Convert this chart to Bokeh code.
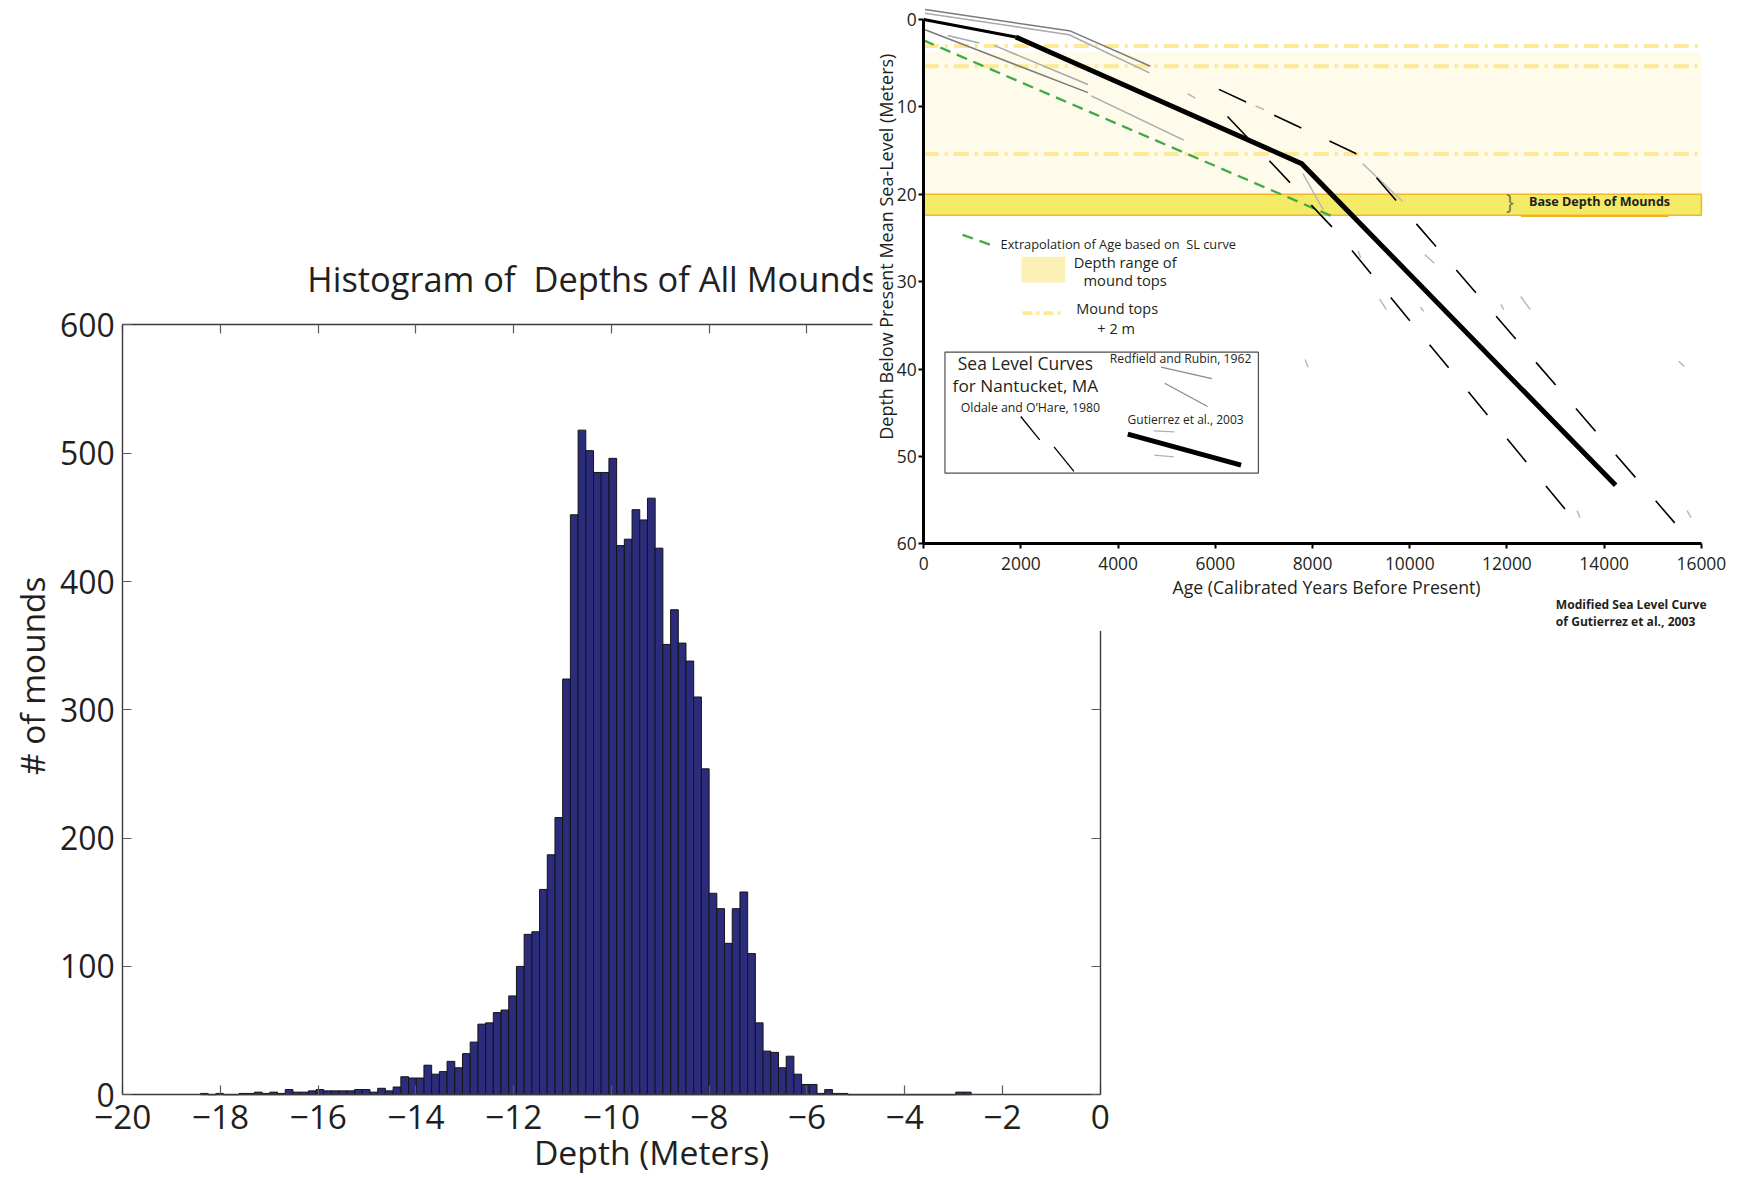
import math
import numpy as np
from bokeh.plotting import figure
from bokeh.models import Range1d, LinearAxis, FixedTicker, Label, GridBox
from bokeh.embed import file_html
from bokeh.resources import INLINE

S = 0.997
FONT = "Open Sans"
TXT = "#231f20"


def px(v):
    return v * S


def ipx(v):
    return int(round(v * S))


def fs(v):
    return f"{v * S:.1f}px"


# ---------------- data: histogram of mound depths ----------------
depth_min, depth_max = -18.41, -2.64          # 100 bins between min and max depth
mound_counts = [1, 0, 1, 0, 0, 1, 1, 2, 1, 2,
                1, 4, 2, 2, 3, 4, 3, 3, 3, 3,
                4, 4, 2, 5, 3, 6, 14, 13, 13, 23,
                16, 18, 26, 21, 32, 41, 55, 56, 64, 66,
                77, 100, 125, 127, 160, 187, 216, 324, 452, 518,
                502, 485, 485, 496, 428, 433, 456, 448, 465, 426,
                351, 378, 352, 338, 310, 254, 157, 145, 118, 145,
                158, 110, 56, 34, 33, 21, 30, 16, 8, 8,
                1, 4, 1, 1, 0, 0, 0, 0, 0, 0,
                0, 0, 0, 0, 0, 0, 0, 0, 2, 2]
hist_xticks = [-20, -18, -16, -14, -12, -10, -8, -6, -4, -2, 0]
hist_xtick_labels = ["\u221220", "\u221218", "\u221216", "\u221214", "\u221212", "\u221210",
                     "\u22128", "\u22126", "\u22124", "\u22122", "0"]
hist_yticks = [0, 100, 200, 300, 400, 500, 600]
hist_xlim = (-20, 0)
hist_ylim = (0, 600)

# ---------------- data: sea level curves ----------------
age_ticks = [0, 2000, 4000, 6000, 8000, 10000, 12000, 14000, 16000]
depth_ticks = [0, 10, 20, 30, 40, 50, 60]
age_lim = (0, 16000)
depth_lim = (0, 60)

gutierrez_age = [0, 1894, 7776, 14236]
gutierrez_depth = [0.0, 2.0, 16.5, 53.3]
oldale_right_age = [6074, 8880, 15451]
oldale_right_depth = [8.0, 15.3, 57.6]
oldale_left_age = [6250, 8494, 13384]
oldale_left_depth = [11.1, 24.3, 57.3]
redfield_a_age = [27, 3022, 4664]
redfield_a_depth = [-1.14, 1.33, 5.36]
redfield_b_age = [27, 2990, 4644]
redfield_b_depth = [-0.72, 1.75, 6.12]
redfield_c_age = [27, 3379]
redfield_c_depth = [1.18, 8.37]
redfield_d_age = [1450, 3379]
redfield_d_depth = [2.97, 7.45]
redfield_d2_age = [492, 1143]
redfield_d2_depth = [1.83, 2.70]
redfield_e_age = [3447, 5349]
redfield_e_depth = [8.75, 13.8]
extrap_age = [0, 8392]
extrap_depth = [2.4, 22.5]
# sparse light-grey pieces of the Gutierrez envelope
env_age0 = [5431, 6829, 9028, 10308, 12283, 11876, 15532, 15705, 7797, 8940, 9380, 10218, 7848, 13444]
env_dep0 = [8.5, 9.9, 16.5, 26.9, 31.7, 32.6, 39.1, 56.2, 17.6, 26.5, 32.0, 32.9, 38.9, 56.2]
env_age1 = [5587, 7001, 9849, 10505, 12479, 11934, 15647, 15787, 8222, 8990, 9520, 10286, 7908, 13502]
env_dep1 = [9.0, 10.3, 20.8, 27.9, 33.2, 33.2, 39.7, 57.0, 21.8, 27.3, 33.2, 33.4, 39.8, 57.0]
mound_top_depths = [3.04, 5.36, 15.4]
top_range_depth = [3.7, 20.0]
base_depth = [20.0, 22.4]

# ---------------- layout (reference pixels scaled by S) ----------------
c0 = round(875 * S)
c01 = round(1131 * S)
call = round(1747 * S)
r0 = round(230 * S)
r01 = round(633 * S)
rall = round(1178 * S)
HW, HH = c01, rall - r0
SW, SH = call - c0, r01

# ======================= histogram =======================
# frame covers the whole canvas; the data box maps to these pixels
hl, hr = 122.6 * S, 1103 * S
ht, hb = 325.4 * S - r0, 1097.5 * S - r0
kx = (hr - hl) / (hist_xlim[1] - hist_xlim[0])
ky = (hb - ht) / (hist_ylim[1] - hist_ylim[0])
hist = figure(width=HW, height=HH,
              x_range=Range1d(hist_xlim[0] - hl / kx, hist_xlim[1] + (HW - hr) / kx),
              y_range=Range1d(hist_ylim[0] - (HH - hb) / ky, hist_ylim[1] + ht / ky),
              output_backend="svg", toolbar_location=None, min_border=0,
              x_axis_location=None, y_axis_location=None)
hist.outline_line_color = None
hist.grid.visible = False
hist.background_fill_color = "white"

edges = np.linspace(depth_min, depth_max, len(mound_counts) + 1)
hist.quad(left=edges[:-1], right=edges[1:], bottom=0, top=mound_counts,
          fill_color="#2c2c7c", line_color="#141414", line_width=px(1.0))


def hist_axis(side, loc, bounds, ticks, show, size):
    ax = LinearAxis(fixed_location=loc, bounds=bounds, ticker=FixedTicker(ticks=ticks))
    ax.axis_line_color = "#3a3a3a"
    ax.axis_line_width = px(1.4)
    ax.major_tick_line_color = "#5a5a5a"
    ax.major_tick_line_width = px(1.2)
    ax.major_tick_in = ipx(9)
    ax.major_tick_out = 0
    ax.minor_tick_line_color = None
    ax.major_label_text_font = FONT
    ax.major_label_text_font_size = fs(size)
    ax.major_label_text_color = TXT if show else None
    hist.add_layout(ax, side)
    return ax


bx = hist_axis("below", hist_ylim[0], hist_xlim, hist_xticks, True, 33.5)
bx.major_label_overrides = {t: l for t, l in zip(hist_xticks, hist_xtick_labels)}
bx.major_label_standoff = ipx(10)
ly = hist_axis("left", hist_xlim[0], hist_ylim, hist_yticks, True, 32)
ly.major_label_standoff = ipx(8)
hist_axis("above", hist_ylim[1], hist_xlim, hist_xticks, False, 31)
hist_axis("right", hist_xlim[1], hist_ylim, hist_yticks, False, 31)


def lab(p, x, y, text, size, bold=False, align="center", angle=0.0, color=TXT):
    p.add_layout(Label(x=x, y=y, text=text, text_font=FONT, text_font_size=fs(size),
                       text_font_style="bold" if bold else "normal",
                       text_align=align, text_baseline="middle", angle=angle,
                       text_color=color))


lab(hist, -10.385, 636.4, "Histogram of \u00a0Depths of All Mounds", 34.5)
lab(hist, -9.18, -45.0, "Depth (Meters)", 33.8)
lab(hist, -21.865, 326.5, "# of mounds", 33.5, angle=math.pi / 2)

# ======================= sea level chart =======================
sl, sr = 926 * S - c0, 1706 * S - c0
st, sb = 19 * S, 545 * S
sx = (sr - sl) / (age_lim[1] - age_lim[0])
sy = (sb - st) / (depth_lim[1] - depth_lim[0])
sea = figure(width=SW, height=SH,
             x_range=Range1d(age_lim[0] - sl / sx, age_lim[1] + (SW - sr) / sx),
             y_range=Range1d(depth_lim[1] + (SH - sb) / sy, depth_lim[0] - st / sy),
             output_backend="svg", toolbar_location=None, min_border=0,
             x_axis_location=None, y_axis_location=None)
sea.outline_line_color = None
sea.grid.visible = False
sea.background_fill_color = "white"
sea.border_fill_color = "white"

A0, A1 = age_lim
# bands
sea.quad(left=[A0], right=[A1], top=[top_range_depth[0]], bottom=[top_range_depth[1]],
         fill_color="#fefbea", line_color=None)
sea.quad(left=[A0], right=[A1], top=[base_depth[0]], bottom=[base_depth[1]],
         fill_color="#f3ea66", line_color="#f2b82a", line_width=px(1.6))
sea.segment(x0=[A0] * 3, x1=[A1] * 3, y0=mound_top_depths, y1=mound_top_depths,
            line_color="#fde996", line_width=px(4), line_dash="15 6 3 6")

# Redfield and Rubin
sea.line(redfield_a_age, redfield_a_depth, line_color="#7b7b7b", line_width=px(1.5))
sea.line(redfield_b_age, redfield_b_depth, line_color="#a9a9a9", line_width=px(1.5))
sea.line(redfield_c_age, redfield_c_depth, line_color="#7b7b7b", line_width=px(1.5))
sea.line(redfield_d_age, redfield_d_depth, line_color="#a9a9a9", line_width=px(1.5))
sea.line(redfield_d2_age, redfield_d2_depth, line_color="#a9a9a9", line_width=px(1.5))
sea.line(redfield_e_age, redfield_e_depth, line_color="#a9a9a9", line_width=px(1.5))
# Gutierrez envelope (sparse light grey)
sea.segment(x0=env_age0, y0=env_dep0, x1=env_age1, y1=env_dep1, line_color="#b8b8b8", line_width=px(1.5))
# extrapolation
sea.line(extrap_age, extrap_depth, line_color="#3fa948", line_width=px(2.3), line_dash="11 7")
# Oldale and O'Hare
sea.line(oldale_right_age, oldale_right_depth, line_color="black", line_width=px(1.6), line_dash="30 31")
sea.line(oldale_left_age, oldale_left_depth, line_color="black", line_width=px(1.6), line_dash="30 31")
# Gutierrez et al. (modified)
sea.line(gutierrez_age[:2], gutierrez_depth[:2], line_color="black", line_width=px(3))
sea.line(gutierrez_age[1:], gutierrez_depth[1:], line_color="black", line_width=px(5), line_join="miter")

# underline of the base depth label
sea.segment(x0=[12287], y0=[22.5], x1=[15323], y1=[22.5], line_color="#f2b21c", line_width=px(2))

# top legend
sea.segment(x0=[800], y0=[24.64], x1=[1477], y1=[26.0], line_color="#3fa948", line_width=px(2.3), line_dash="11 7")
sea.quad(left=[2010], right=[2913], top=[27.15], bottom=[30.1], fill_color="#fcf1b5", line_color=None)
sea.segment(x0=[2031], y0=[33.6], x1=[2845], y1=[33.6], line_color="#fde996", line_width=px(4), line_dash="10 4 3 4")

# inset legend box
sea.quad(left=[437], right=[6886], top=[38.06], bottom=[51.9], fill_color=None,
         line_color="#4d4d4d", line_width=px(1.2))
sea.segment(x0=[4882, 4958], y0=[39.77, 41.63], x1=[5928, 5840], y1=[41.1, 44.29],
            line_color="#8a8a8a", line_width=px(1.3))
sea.segment(x0=[1996, 2681], y0=[45.43, 48.9], x1=[2386, 3091], y1=[48.1, 51.7],
            line_color="black", line_width=px(1.3))
sea.segment(x0=[4732, 4745], y0=[47.07, 49.85], x1=[5155, 5143], y1=[47.19, 50.04],
            line_color="#b0b0b0", line_width=px(1.3))
sea.segment(x0=[4199], y0=[47.45], x1=[6529], y1=[50.99], line_color="black", line_width=px(5))


def sea_axis(side, loc, bounds, ticks, standoff):
    ax = LinearAxis(fixed_location=loc, bounds=bounds, ticker=FixedTicker(ticks=ticks))
    ax.axis_line_color = "black"
    ax.axis_line_width = px(3)
    ax.major_tick_line_color = "black"
    ax.major_tick_line_width = px(2)
    ax.major_tick_in = 0
    ax.major_tick_out = ipx(5)
    ax.minor_tick_line_color = None
    ax.major_label_text_font = FONT
    ax.major_label_text_color = TXT
    ax.major_label_text_font_size = fs(17.5)
    ax.major_label_standoff = ipx(standoff)
    sea.add_layout(ax, side)
    return ax


sea_axis("below", depth_lim[1], age_lim, age_ticks, 8)
sea_axis("left", age_lim[0], depth_lim, depth_ticks, 2)

lab(sea, -780, 26.0, "Depth Below Present Mean Sea-Level (Meters)", 18.1, angle=math.pi / 2)
lab(sea, 8287, 64.9, "Age (Calibrated Years Before Present)", 17.8)
lab(sea, 1580, 25.66, "Extrapolation of Age based on \u00a0SL curve", 12.8, align="left")
lab(sea, 4144, 27.7, "Depth range of", 14.7)
lab(sea, 4144, 29.85, "mound tops", 14.7)
lab(sea, 3980, 33.1, "Mound tops", 14.5)
lab(sea, 3959, 35.4, "+ 2 m", 14.5)
lab(sea, 2092, 39.27, "Sea Level Curves", 17.5)
lab(sea, 2092, 41.86, "for Nantucket, MA", 17.3)
lab(sea, 2195, 44.41, "Oldale and O\u2019Hare, 1980", 12.3)
lab(sea, 5286, 38.75, "Redfield and Rubin, 1962", 12.2)
lab(sea, 5389, 45.72, "Gutierrez et al., 2003", 12.0)
lab(sea, 12062, 20.9, "}", 21, color="#77774a")
lab(sea, 12452, 20.87, "Base Depth of Mounds", 12.6, bold=True, align="left")
lab(sea, 13005, 66.97, "Modified Sea Level Curve", 12.1, bold=True, align="left")
lab(sea, 13005, 68.87, "of Gutierrez et al., 2003", 12.1, bold=True, align="left")

grid = GridBox(children=[(hist, 1, 0, 2, 2), (sea, 0, 1, 2, 2)],
               rows=[f"{r0}px", f"{r01 - r0}px", f"{rall - r01}px"],
               cols=[f"{c0}px", f"{c01 - c0}px", f"{call - c01}px"])

open("out.html", "w").write(file_html(grid, INLINE))
